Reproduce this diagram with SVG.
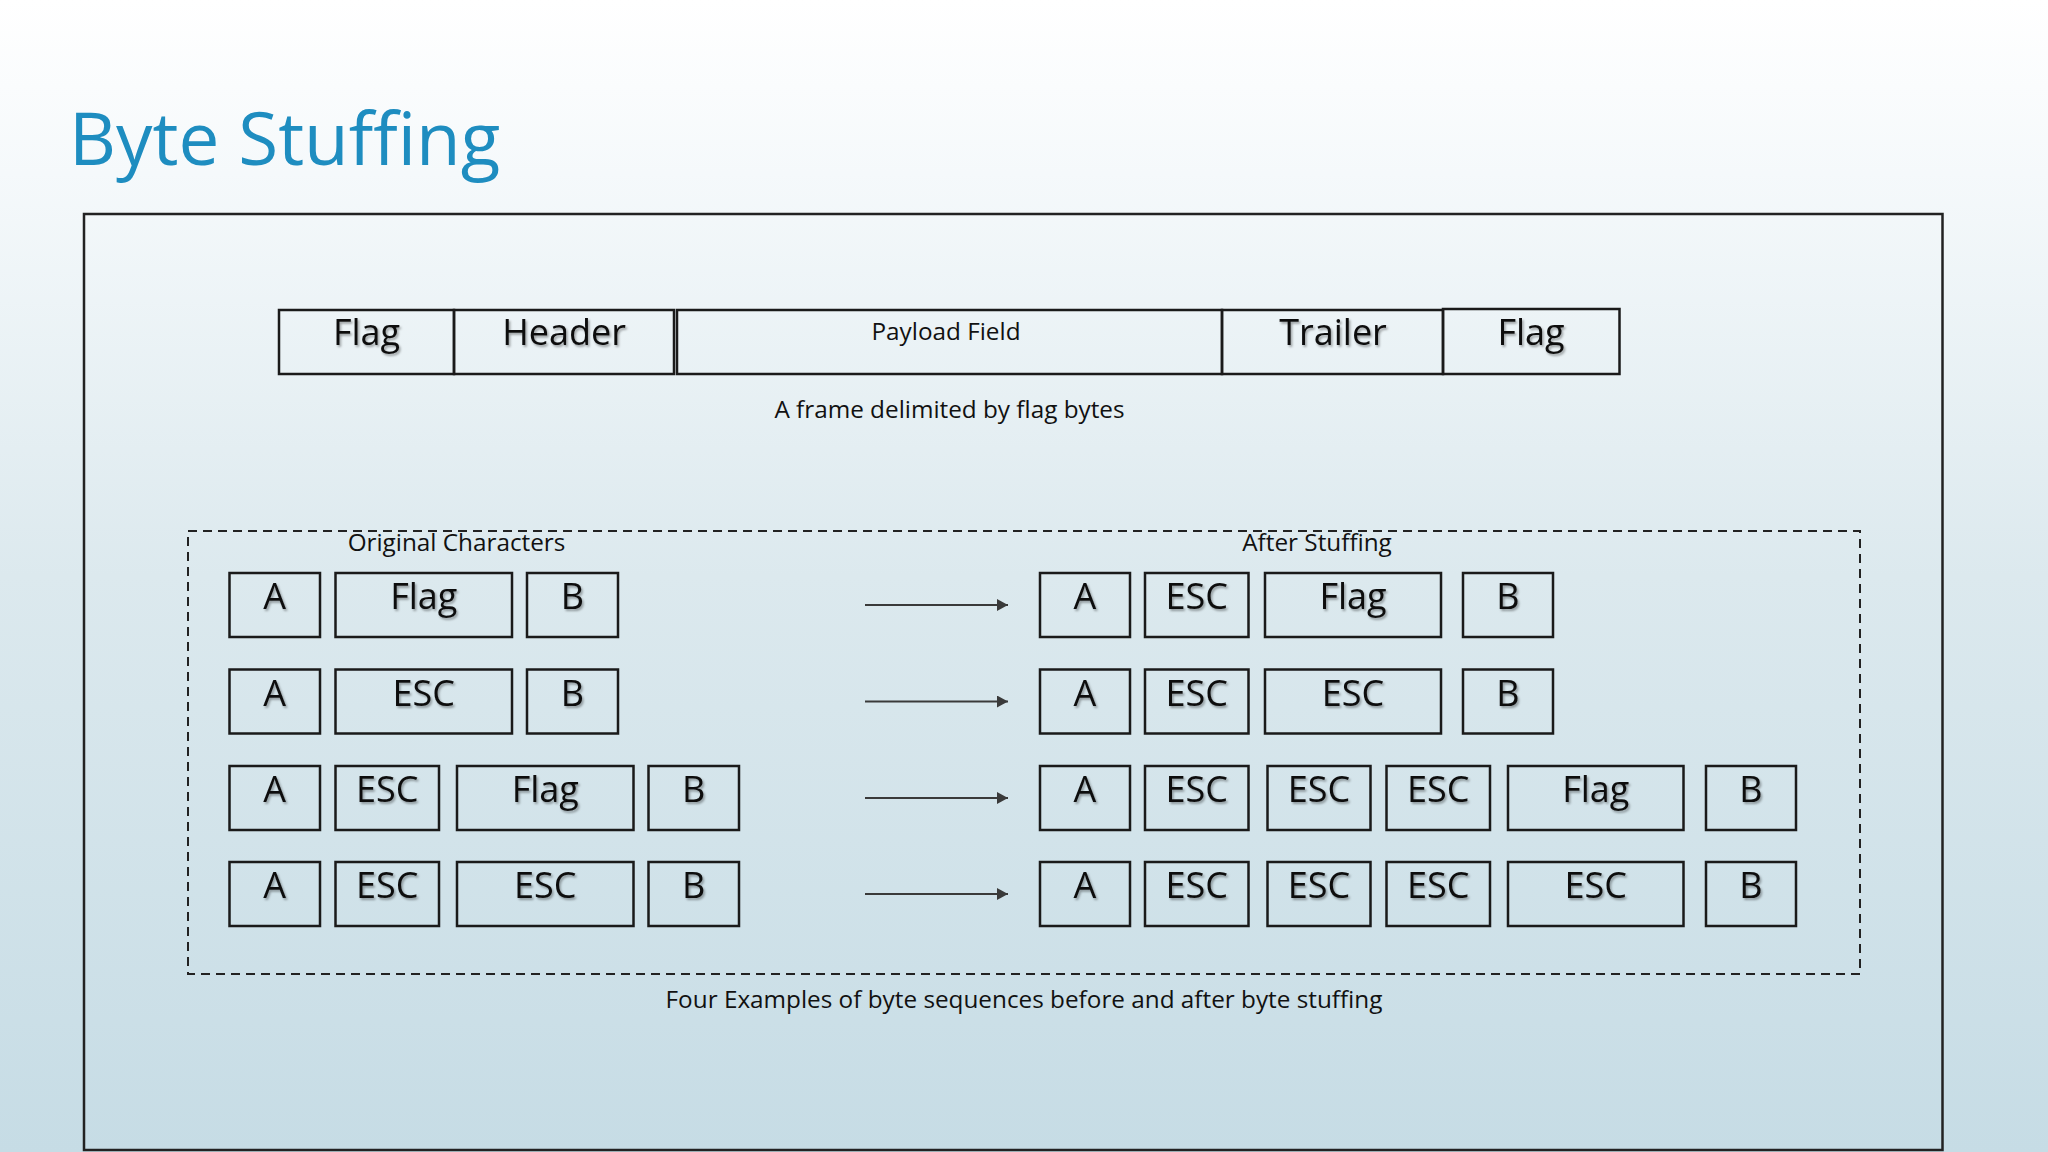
<svg xmlns="http://www.w3.org/2000/svg" width="2048" height="1152" viewBox="0 0 2048 1152">
<defs>
<linearGradient id="bg" x1="0" y1="0" x2="0" y2="1">
<stop offset="0" stop-color="#ffffff"/>
<stop offset="0.15" stop-color="#f5f9fb"/>
<stop offset="0.5" stop-color="#dce9ee"/>
<stop offset="1" stop-color="#c6dce5"/>
</linearGradient>
<filter id="sh" x="-20%" y="-20%" width="140%" height="160%">
<feDropShadow dx="1.5" dy="2" stdDeviation="1.2" flood-color="#000" flood-opacity="0.35"/>
</filter>
<marker id="arr" markerUnits="userSpaceOnUse" markerWidth="12" markerHeight="12" refX="11" refY="6" orient="auto">
<path d="M0,0 L11,6 L0,12 z" fill="#3a3a3a"/>
</marker>
</defs>
<style>
.box{fill:none;stroke:#1a1a1a;stroke-width:2.5}
.big{font-family:"Open Sans","Noto Sans","DejaVu Sans",sans-serif;font-size:36px;fill:#111;text-anchor:middle;filter:url(#sh)}
.small{font-family:"Open Sans","Noto Sans","DejaVu Sans",sans-serif;font-size:24.3px;fill:#111;text-anchor:middle}
.arrow{stroke:#3a3a3a;stroke-width:2;fill:none;marker-end:url(#arr)}
</style>
<rect x="0" y="0" width="2048" height="1152" fill="url(#bg)"/>
<text x="69" y="165" font-family="Open Sans, Noto Sans, sans-serif" font-size="72.8" fill="#1e8dc0">Byte Stuffing</text>
<rect x="84" y="214" width="1858.5" height="936" fill="none" stroke="#222" stroke-width="2.5"/>

<g id="frame">
<g id="frame-flag1"><rect class="box" x="279" y="310" width="175" height="64"/><text class="big" x="366.5" y="345">Flag</text></g>
<g id="frame-header"><rect class="box" x="454" y="310" width="220" height="64"/><text class="big" x="564" y="345">Header</text></g>
<g id="frame-payload"><rect class="box" x="677" y="310" width="545" height="64"/><text class="small" x="946" y="340">Payload Field</text></g>
<g id="frame-trailer"><rect class="box" x="1222" y="310" width="221" height="64"/><text class="big" x="1333" y="345">Trailer</text></g>
<g id="frame-flag2"><rect class="box" x="1443" y="309" width="176.5" height="65"/><text class="big" x="1531" y="345">Flag</text></g>
<text class="small" x="949.5" y="418">A frame delimited by flag bytes</text>
</g>

<g id="examples">
<rect x="188" y="531" width="1672" height="443" fill="none" stroke="#222" stroke-width="2" stroke-dasharray="9 6"/>
<text class="small" x="456.5" y="551">Original Characters</text>
<text class="small" x="1317" y="551">After Stuffing</text>
<text class="small" x="1024" y="1008">Four Examples of byte sequences before and after byte stuffing</text>
</g>

<g id="row1-before">
<g id="r1b-a"><rect class="box" x="229.5" y="573" width="90.5" height="64"/><text class="big" x="274.75" y="609">A</text></g>
<g id="r1b-flag"><rect class="box" x="335.5" y="573" width="176.5" height="64"/><text class="big" x="423.75" y="609">Flag</text></g>
<g id="r1b-b"><rect class="box" x="527" y="573" width="91" height="64"/><text class="big" x="572.5" y="609">B</text></g>
</g>
<g id="row2-before">
<g id="r2b-a"><rect class="box" x="229.5" y="669.5" width="90.5" height="64"/><text class="big" x="274.75" y="705.5">A</text></g>
<g id="r2b-esc"><rect class="box" x="335.5" y="669.5" width="176.5" height="64"/><text class="big" x="423.75" y="705.5">ESC</text></g>
<g id="r2b-b"><rect class="box" x="527" y="669.5" width="91" height="64"/><text class="big" x="572.5" y="705.5">B</text></g>
</g>
<g id="row3-before">
<g id="r3b-a"><rect class="box" x="229.5" y="766" width="90.5" height="64"/><text class="big" x="274.75" y="802">A</text></g>
<g id="r3b-esc"><rect class="box" x="335.5" y="766" width="103.5" height="64"/><text class="big" x="387.25" y="802">ESC</text></g>
<g id="r3b-flag"><rect class="box" x="457" y="766" width="176.5" height="64"/><text class="big" x="545.25" y="802">Flag</text></g>
<g id="r3b-b"><rect class="box" x="648.5" y="766" width="90.5" height="64"/><text class="big" x="693.75" y="802">B</text></g>
</g>
<g id="row4-before">
<g id="r4b-a"><rect class="box" x="229.5" y="862" width="90.5" height="64"/><text class="big" x="274.75" y="898">A</text></g>
<g id="r4b-esc1"><rect class="box" x="335.5" y="862" width="103.5" height="64"/><text class="big" x="387.25" y="898">ESC</text></g>
<g id="r4b-esc2"><rect class="box" x="457" y="862" width="176.5" height="64"/><text class="big" x="545.25" y="898">ESC</text></g>
<g id="r4b-b"><rect class="box" x="648.5" y="862" width="90.5" height="64"/><text class="big" x="693.75" y="898">B</text></g>
</g>

<g id="row1-after">
<g id="r1a-a"><rect class="box" x="1040" y="573" width="90" height="64"/><text class="big" x="1085" y="609">A</text></g>
<g id="r1a-esc"><rect class="box" x="1145" y="573" width="103.5" height="64"/><text class="big" x="1196.75" y="609">ESC</text></g>
<g id="r1a-flag"><rect class="box" x="1265" y="573" width="176" height="64"/><text class="big" x="1353" y="609">Flag</text></g>
<g id="r1a-b"><rect class="box" x="1463" y="573" width="90" height="64"/><text class="big" x="1508" y="609">B</text></g>
</g>
<g id="row2-after">
<g id="r2a-a"><rect class="box" x="1040" y="669.5" width="90" height="64"/><text class="big" x="1085" y="705.5">A</text></g>
<g id="r2a-esc1"><rect class="box" x="1145" y="669.5" width="103.5" height="64"/><text class="big" x="1196.75" y="705.5">ESC</text></g>
<g id="r2a-esc2"><rect class="box" x="1265" y="669.5" width="176" height="64"/><text class="big" x="1353" y="705.5">ESC</text></g>
<g id="r2a-b"><rect class="box" x="1463" y="669.5" width="90" height="64"/><text class="big" x="1508" y="705.5">B</text></g>
</g>
<g id="row3-after">
<g id="r3a-a"><rect class="box" x="1040" y="766" width="90" height="64"/><text class="big" x="1085" y="802">A</text></g>
<g id="r3a-esc1"><rect class="box" x="1145" y="766" width="103.5" height="64"/><text class="big" x="1196.75" y="802">ESC</text></g>
<g id="r3a-esc2"><rect class="box" x="1267.5" y="766" width="103" height="64"/><text class="big" x="1319" y="802">ESC</text></g>
<g id="r3a-esc3"><rect class="box" x="1386.5" y="766" width="103.5" height="64"/><text class="big" x="1438.25" y="802">ESC</text></g>
<g id="r3a-flag"><rect class="box" x="1508" y="766" width="175.5" height="64"/><text class="big" x="1595.75" y="802">Flag</text></g>
<g id="r3a-b"><rect class="box" x="1706" y="766" width="90" height="64"/><text class="big" x="1751" y="802">B</text></g>
</g>
<g id="row4-after">
<g id="r4a-a"><rect class="box" x="1040" y="862" width="90" height="64"/><text class="big" x="1085" y="898">A</text></g>
<g id="r4a-esc1"><rect class="box" x="1145" y="862" width="103.5" height="64"/><text class="big" x="1196.75" y="898">ESC</text></g>
<g id="r4a-esc2"><rect class="box" x="1267.5" y="862" width="103" height="64"/><text class="big" x="1319" y="898">ESC</text></g>
<g id="r4a-esc3"><rect class="box" x="1386.5" y="862" width="103.5" height="64"/><text class="big" x="1438.25" y="898">ESC</text></g>
<g id="r4a-esc4"><rect class="box" x="1508" y="862" width="175.5" height="64"/><text class="big" x="1595.75" y="898">ESC</text></g>
<g id="r4a-b"><rect class="box" x="1706" y="862" width="90" height="64"/><text class="big" x="1751" y="898">B</text></g>
</g>

<g id="connectors">
<line class="arrow" x1="865" y1="605" x2="1008" y2="605"/>
<line class="arrow" x1="865" y1="701.5" x2="1008" y2="701.5"/>
<line class="arrow" x1="865" y1="798" x2="1008" y2="798"/>
<line class="arrow" x1="865" y1="894" x2="1008" y2="894"/>
</g>
</svg>
